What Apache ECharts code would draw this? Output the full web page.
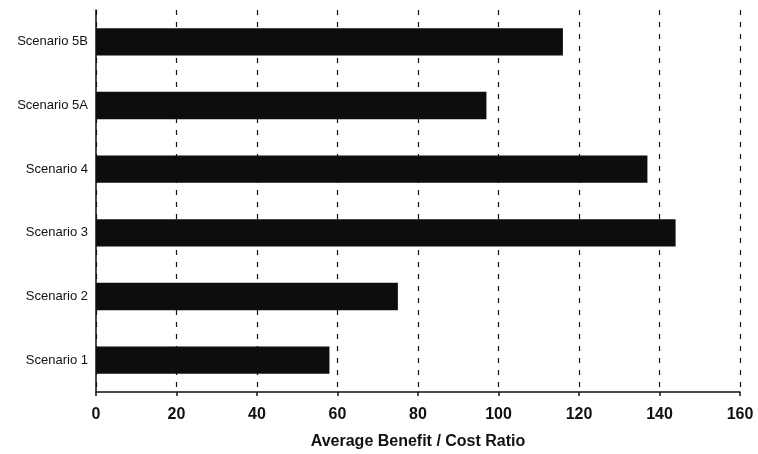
<!DOCTYPE html>
<html>
<head>
<meta charset="utf-8">
<script src="https://cdn.jsdelivr.net/npm/echarts@6/dist/echarts.min.js"></script>
<style>html,body{margin:0;padding:0;background:#fff;}#c{width:758px;height:454px;}</style>
</head>
<body>
<div id="c"></div>
<script>
const categories = ['Scenario 1', 'Scenario 2', 'Scenario 3', 'Scenario 4', 'Scenario 5A', 'Scenario 5B'];
const values = [58, 75, 144, 137, 97, 116];
const xTicks = [0, 20, 40, 60, 80, 100, 120, 140, 160];
const xTitle = 'Average Benefit / Cost Ratio';

const chart = echarts.init(document.getElementById('c'));
chart.setOption({
  animation: false,
  backgroundColor: '#fff',
  grid: { left: 96, right: 18, top: 10, bottom: 62, containLabel: false, outerBoundsMode: 'none' },
  xAxis: {
    type: 'value',
    min: xTicks[0],
    max: xTicks[xTicks.length - 1],
    interval: 20,
    name: xTitle,
    nameLocation: 'middle',
    nameGap: 42,
    nameTextStyle: { fontFamily: 'Liberation Sans, Arial, sans-serif', fontWeight: 'bold', fontSize: 16, color: '#111' },
    axisLine: { show: true, lineStyle: { color: '#111', width: 1.5 } },
    axisTick: { show: true, length: 4, lineStyle: { color: '#111', width: 1.5 } },
    axisLabel: { fontFamily: 'Liberation Sans, Arial, sans-serif', fontWeight: 'bold', fontSize: 16, color: '#111', margin: 15 },
    splitLine: { show: true, lineStyle: { color: '#111', type: [5, 7], width: 1.2 } }
  },
  yAxis: {
    type: 'category',
    data: categories,
    axisLine: { show: true, lineStyle: { color: '#111', width: 1.5 } },
    axisTick: { show: false },
    axisLabel: { fontFamily: 'Liberation Sans, Arial, sans-serif', fontSize: 13, color: '#111', margin: 8 },
    splitLine: { show: false }
  },
  series: [{
    type: 'bar',
    data: values,
    barWidth: '43%',
    itemStyle: { color: '#0d0d0d' }
  }]
});
</script>
</body>
</html>
